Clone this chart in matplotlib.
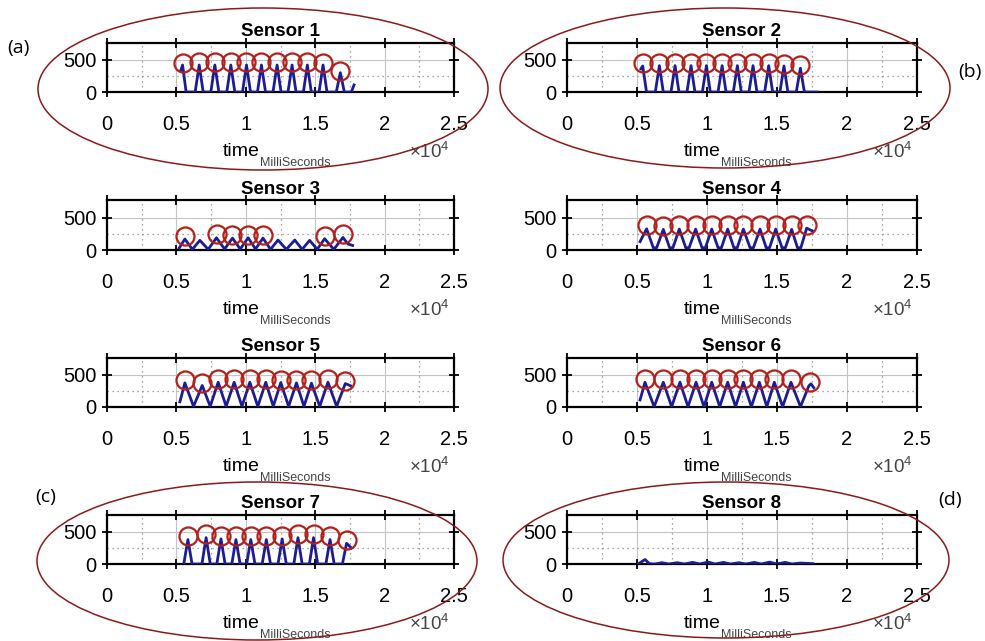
import matplotlib.pyplot as plt
from matplotlib.patches import Ellipse
from matplotlib.ticker import FixedLocator, MultipleLocator

plt.rcParams['font.family'] = ['Liberation Sans', 'DejaVu Sans']
plt.rcParams['mathtext.fontset'] = 'custom'
plt.rcParams['mathtext.rm'] = 'Liberation Sans'

# time in ms, sensor reading
s1_t = [5300, 5445, 5700, 6350, 6643, 6930, 7480, 7770, 8060, 8630, 8921, 9210,
        9760, 10050, 10340, 10840, 11127, 11420, 11960, 12254, 12540, 13040, 13333, 13620,
        14150, 14436, 14720, 15280, 15564, 15850, 16520, 16811, 17100, 17600, 17800]
s1_v = [330, 420, 0, 0, 420, 0, 0, 420, 0, 0, 420, 0,
        0, 420, 0, 0, 420, 0, 0, 420, 0, 0, 420, 0,
        0, 420, 0, 0, 420, 0, 0, 300, 0, 0, 110]
c1_t = [5445, 6643, 7770, 8921, 10050, 11127, 12254, 13333, 14436, 15564, 16811]
c1_v = [455, 460, 460, 460, 460, 460, 460, 460, 460, 455, 330]

s2_t = [5300, 5430, 5700, 6330, 6620, 6900, 7450, 7740, 8020, 8590, 8880, 9160,
        9690, 9980, 10260, 10810, 11100, 11380, 11900, 12190, 12470, 13020, 13310, 13590,
        14140, 14430, 14710, 15230, 15520, 15800, 16400, 16690, 16980, 17900]
s2_v = [360, 405, 0, 0, 410, 0, 0, 410, 0, 0, 410, 0,
        0, 410, 0, 0, 410, 0, 0, 410, 0, 0, 410, 0,
        0, 410, 0, 0, 405, 0, 0, 370, 0, 0]
c2_t = [5430, 6620, 7740, 8880, 9980, 11100, 12190, 13310, 14430, 15520, 16690]
c2_v = [445, 450, 450, 450, 450, 450, 450, 450, 450, 440, 420]

s3_t = [5200, 5610, 6150, 6690, 7290, 7890, 8470, 9040, 9600, 10170, 10700, 11240,
        11780, 12320, 12920, 13530, 14060, 14600, 15140, 15680, 16340, 17000, 17350, 17700]
s3_v = [30, 170, 10, 150, 10, 190, 15, 185, 15, 190, 15, 185,
        10, 155, 10, 155, 10, 150, 10, 175, 10, 195, 95, 70]
c3_t = [5610, 7890, 9040, 10170, 11240, 15680, 17000]
c3_v = [215, 245, 235, 240, 235, 220, 250]

s4_t = [5240, 5710, 6185, 6425, 6900, 7350, 7590, 8040, 8505, 8745, 9210, 9665,
        9905, 10360, 10810, 11050, 11500, 11940, 12180, 12620, 13095, 13335, 13810, 14250,
        14490, 14930, 15380, 15620, 16070, 16485, 16725, 17140, 17600]
s4_v = [130, 330, 35, 35, 320, 35, 35, 325, 35, 35, 325, 35,
        35, 325, 35, 35, 325, 35, 35, 325, 35, 35, 325, 35,
        35, 325, 35, 35, 320, 35, 35, 340, 290]
c4_t = [5710, 6900, 8040, 9210, 10360, 11500, 12620, 13810, 14930, 16070, 17140]
c4_v = [385, 380, 385, 385, 385, 385, 385, 385, 385, 385, 395]

s5_t = [5250, 5610, 6235, 6860, 7435, 8010, 8585, 9160, 9725, 10290, 10865, 11440,
        11980, 12520, 13085, 13650, 14190, 14730, 15325, 15920, 16545, 17170, 17550]
s5_v = [80, 375, 10, 335, 10, 385, 10, 385, 10, 385, 10, 385,
        10, 380, 10, 375, 10, 370, 10, 385, 10, 365, 330]
c5_t = [5610, 6860, 8010, 9160, 10290, 11440, 12520, 13650, 14730, 15920, 17170]
c5_v = [420, 380, 430, 430, 430, 430, 425, 420, 415, 430, 410]

s6_t = [5240, 5590, 6245, 6900, 7495, 8090, 8665, 9240, 9800, 10360, 10930, 11500,
        12060, 12620, 13190, 13760, 14295, 14830, 15425, 16020, 16700, 17300, 17450, 17650]
s6_v = [110, 385, 5, 385, 5, 385, 5, 385, 5, 385, 5, 385,
        5, 385, 5, 385, 5, 385, 5, 385, 5, 330, 360, 300]
c6_t = [5590, 6900, 8090, 9240, 10360, 11500, 12620, 13760, 14830, 16020, 17380]
c6_v = [435, 435, 435, 435, 435, 435, 435, 435, 435, 435, 395]

s7_t = [5530, 5830, 6130, 6840, 7140, 7440, 7910, 8210, 8510, 8990, 9290, 9590,
        10060, 10360, 10660, 11180, 11480, 11780, 12320, 12620, 12920, 13460, 13760, 14060,
        14580, 14880, 15180, 15770, 16070, 16370, 16960, 17260, 17600]
s7_v = [0, 380, 0, 0, 410, 0, 0, 390, 0, 0, 380, 0,
        0, 380, 0, 0, 380, 0, 0, 390, 0, 0, 410, 0,
        0, 410, 0, 0, 380, 0, 0, 322, 250]
c7_t = [5830, 7140, 8210, 9290, 10360, 11480, 12620, 13760, 14880, 16070, 17260]
c7_v = [430, 460, 440, 430, 430, 430, 440, 460, 460, 430, 372]

s8_t = [5100, 5600, 5900, 6300, 6800, 7300, 7900, 8400, 9000, 9500, 10100, 10600,
        11200, 11700, 12300, 12800, 13400, 13900, 14500, 15000, 15600, 16100, 16700, 17600]
s8_v = [0, 70, 5, 0, 20, 0, 20, 0, 25, 0, 30, 0,
        25, 0, 20, 0, 25, 0, 30, 0, 25, 0, 15, 5]
c8_t = []
c8_v = []

lines = [(s1_t, s1_v), (s2_t, s2_v), (s3_t, s3_v), (s4_t, s4_v),
         (s5_t, s5_v), (s6_t, s6_v), (s7_t, s7_v), (s8_t, s8_v)]
peaks = [(c1_t, c1_v), (c2_t, c2_v), (c3_t, c3_v), (c4_t, c4_v),
         (c5_t, c5_v), (c6_t, c6_v), (c7_t, c7_v), (c8_t, c8_v)]
titles = ['Sensor %d' % (i + 1) for i in range(8)]
xticks = [0, 5000, 10000, 15000, 20000, 25000]
xticklabels = ['0', '0.5', '1', '1.5', '2', '2.5']
yticks = [0, 500]

W, H = 985, 641
fig = plt.figure(figsize=(W / 100, H / 100), dpi=100)

col_x = [107, 566.7]
col_w = [347, 350]
row_bottom = [92, 250, 407, 564]
ax_h = 49.5

for i in range(8):
    r, c = divmod(i, 2)
    ax = fig.add_axes([col_x[c] / W, 1 - row_bottom[r] / H, col_w[c] / W, ax_h / H])
    t, v = lines[i]
    ax.plot(t, v, color='#1c1c94', lw=2.0, zorder=3)
    pt, pv = peaks[i]
    if pt:
        ax.plot(pt, pv, 'o', ms=13, mfc='none', mec='#b3201c', mew=1.6, zorder=4)
    ax.set_xlim(0, 25000)
    ax.set_ylim(0, 770)
    ax.set_xticks(xticks)
    ax.set_xticklabels(xticklabels)
    ax.set_yticks(yticks)
    ax.xaxis.set_minor_locator(MultipleLocator(2500))
    ax.yaxis.set_minor_locator(FixedLocator([250]))
    ax.grid(which='major', color='#c4c4c4', lw=0.8, ls='-')
    ax.grid(which='minor', color='#8a8a8a', lw=0.9, ls=(0, (1, 3)))
    ax.set_axisbelow(True)
    ax.tick_params(which='major', direction='inout', length=7, width=1.3,
                   top=True, right=True, labelsize=14.5)
    ax.tick_params(axis='x', which='major', pad=13)
    ax.tick_params(axis='y', which='major', pad=4)
    ax.tick_params(which='minor', length=0)
    for s in ax.spines.values():
        s.set_linewidth(1.6)
    ax.set_title(titles[i], fontsize=13.5, fontweight='bold', pad=5)
    ax.text(0.44, -1.3, 'time', transform=ax.transAxes, ha='right',
            va='baseline', fontsize=14)
    ax.text(0.442, -1.5, 'MilliSeconds', transform=ax.transAxes, ha='left',
            va='baseline', fontsize=9, color='#444444')
    ax.text(0.93, -1.22, r'$\mathregular{\times10^{4}}$', transform=ax.transAxes,
            ha='center', va='center', fontsize=13.5, color='#444444')

# highlighted panels
ell_col = '#8b1a1a'
for cx, cy, ew, eh in [(263, 89, 450, 162), (725, 88, 450, 160),
                       (257, 561, 440, 158), (726, 560, 446, 156)]:
    fig.patches.append(Ellipse((cx / W, 1 - cy / H), ew / W, eh / H,
                               transform=fig.transFigure, fill=False,
                               ec=ell_col, lw=1.1))

for lab, x, y in [('(a)', 18, 48), ('(b)', 970, 72), ('(c)', 46, 497), ('(d)', 950, 500)]:
    fig.text(x / W, 1 - y / H, lab, ha='center', va='center', fontsize=14,
             family=['Open Sans', 'DejaVu Sans'])

plt.savefig('out.png', dpi=100)
plt.close()
